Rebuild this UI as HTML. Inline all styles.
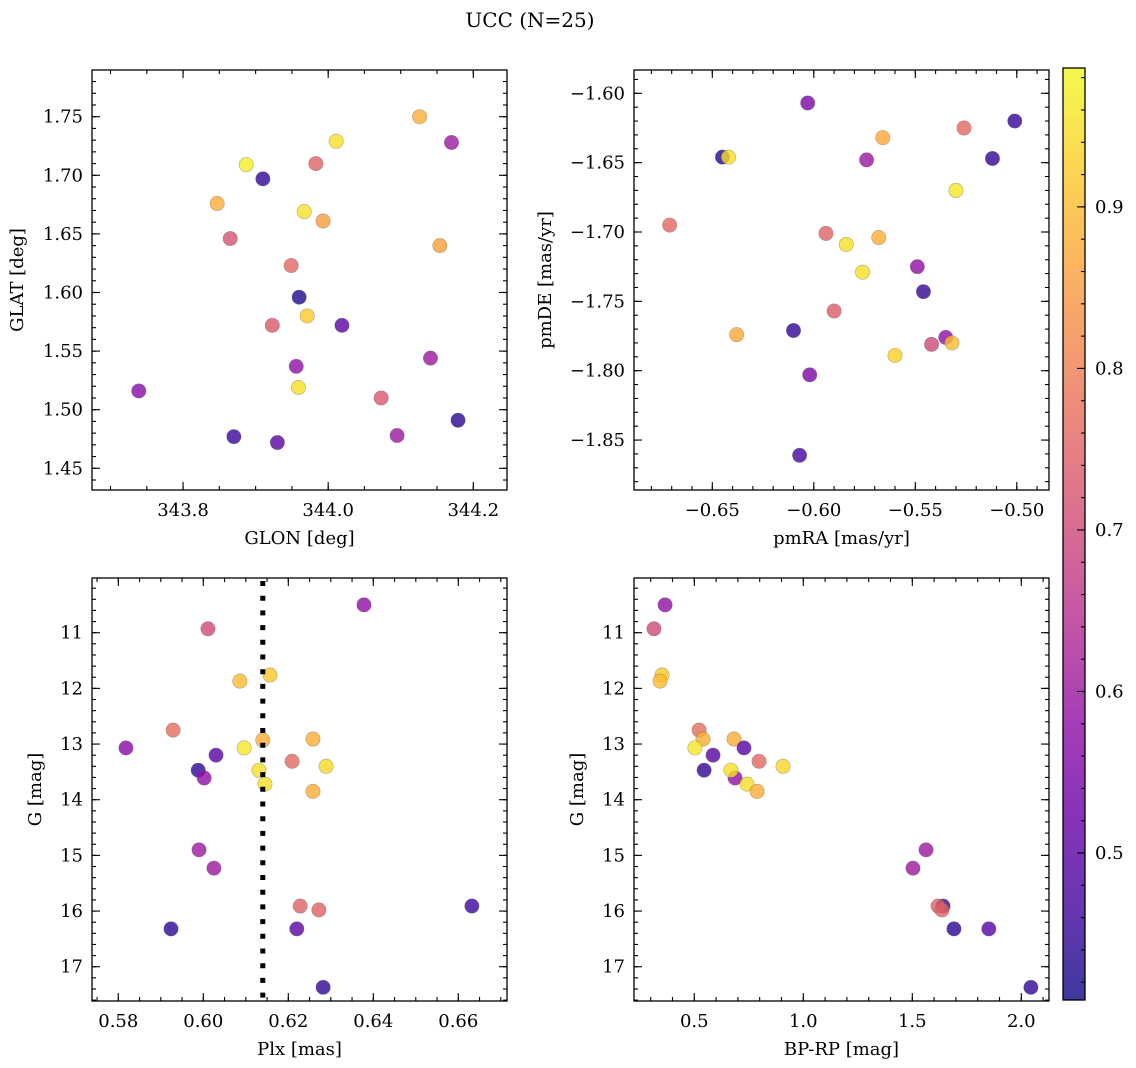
<!DOCTYPE html>
<html><head><meta charset="utf-8"><style>
html,body{margin:0;padding:0;background:#fff;}
svg{display:block;font-family:"DejaVu Serif","Liberation Serif",serif;}
</style></head><body>
<svg id="fig" width="1136" height="1068" viewBox="0 0 1136 1068" xmlns="http://www.w3.org/2000/svg">
<text x="530" y="27" font-size="20" text-anchor="middle">UCC (N=25)</text>
</svg>
<script>
// ---- data ----
const glon = [344.126,344.011,344.170,343.887,343.983,343.910,343.847,343.967,343.993,343.865,344.154,343.949,343.960,343.923,343.971,344.019,343.956,344.141,343.959,343.739,344.073,343.870,344.095,343.930,344.179];
const glat = [1.750,1.729,1.728,1.709,1.710,1.697,1.676,1.669,1.661,1.646,1.640,1.623,1.596,1.572,1.580,1.572,1.537,1.544,1.519,1.516,1.510,1.477,1.478,1.472,1.491];
const probTL = [0.88,0.95,0.60,0.97,0.75,0.45,0.88,0.95,0.85,0.72,0.86,0.76,0.43,0.73,0.92,0.50,0.58,0.60,0.95,0.57,0.73,0.46,0.60,0.50,0.44];

const pmra = [-0.603,-0.501,-0.526,-0.566,-0.645,-0.642,-0.574,-0.512,-0.530,-0.671,-0.594,-0.584,-0.568,-0.576,-0.549,-0.546,-0.590,-0.610,-0.638,-0.535,-0.542,-0.532,-0.560,-0.602,-0.607];
const pmde = [-1.607,-1.620,-1.625,-1.632,-1.646,-1.646,-1.648,-1.647,-1.670,-1.695,-1.701,-1.709,-1.704,-1.729,-1.725,-1.743,-1.757,-1.771,-1.774,-1.776,-1.781,-1.780,-1.789,-1.803,-1.861];
const probTR = [0.55,0.45,0.76,0.87,0.43,0.95,0.60,0.45,0.96,0.76,0.75,0.95,0.88,0.95,0.58,0.45,0.74,0.45,0.87,0.58,0.70,0.90,0.93,0.55,0.47];

const plx = [0.6378,0.6011,0.6157,0.6086,0.5929,0.5818,0.6096,0.6140,0.6258,0.6209,0.6289,0.6030,0.5988,0.6002,0.6131,0.6145,0.6258,0.5990,0.6025,0.6228,0.6272,0.6632,0.5924,0.6220,0.6282];
const gmag = [10.50,10.93,11.76,11.87,12.75,13.07,13.07,12.93,12.91,13.31,13.40,13.20,13.47,13.61,13.47,13.72,13.85,14.90,15.23,15.91,15.98,15.91,16.32,16.32,17.37];
const probBL = [0.58,0.70,0.92,0.90,0.77,0.57,0.96,0.88,0.88,0.76,0.94,0.50,0.45,0.58,0.95,0.95,0.88,0.60,0.60,0.75,0.75,0.46,0.44,0.50,0.45];
const plxLine = 0.614;

const bprp = [0.366,0.315,0.352,0.343,0.522,0.540,0.503,0.682,0.797,0.907,0.728,0.586,0.545,0.687,0.668,0.742,0.788,1.563,1.503,1.641,1.618,1.636,1.691,1.851,2.044];
const gmag2 = [10.50,10.93,11.76,11.87,12.75,12.91,13.07,12.91,13.31,13.40,13.07,13.20,13.47,13.61,13.47,13.72,13.85,14.90,15.23,15.91,15.91,15.98,16.32,16.32,17.37];
const probBR = [0.58,0.70,0.92,0.90,0.77,0.88,0.96,0.88,0.76,0.94,0.50,0.50,0.45,0.58,0.95,0.95,0.88,0.60,0.60,0.46,0.75,0.75,0.44,0.50,0.45];

const cbTicks = [0.5,0.6,0.7,0.8,0.9];
const vmin = 0.409, vmax = 0.986;

// ---- helpers ----
const NS = "http://www.w3.org/2000/svg";
const fig = document.getElementById('fig');
const FS = 18;
const plasma = ["#0d0887","#41049d","#6a00a8","#8f0da4","#b12a90","#cc4778","#e16462","#f2844b","#fca636","#fcce25","#f0f921"];
function hex(h){return [parseInt(h.slice(1,3),16),parseInt(h.slice(3,5),16),parseInt(h.slice(5,7),16)];}
function cmap(v){
  let t=(v-vmin)/(vmax-vmin); t=Math.max(0,Math.min(1,t));
  const s=t*10, i=Math.min(9,Math.floor(s)), f=s-i;
  const a=hex(plasma[i]), b=hex(plasma[i+1]);
  return "rgb("+a.map((c,k)=>Math.round(c+(b[k]-c)*f)).join(",")+")";
}
function mk(tag, attrs, parent){
  const e=document.createElementNS(NS,tag);
  for(const k in attrs) e.setAttribute(k,attrs[k]);
  (parent||fig).appendChild(e); return e;
}
function fmt(v,d){ const s=v.toFixed(d); return s.replace("-","\u2212"); }

function panel(cfg){
  const {x0,x1,y0,y1,xmin,xmax,ymin,ymax,invert,name}=cfg;
  const g=mk('g',{});
  
  
  const sx=v=>x0+(v-xmin)/(xmax-xmin)*(x1-x0);
  const sy=v=> invert ? y0+(v-ymin)/(ymax-ymin)*(y1-y0) : y1-(v-ymin)/(ymax-ymin)*(y1-y0);
  const tg=mk('g',{stroke:'#000','stroke-width':1.1},g);
  function ticks(step,len,isX){
    const lo=isX?xmin:ymin, hi=isX?xmax:ymax;
    for(let k=Math.ceil(lo/step-1e-9);k*step<=hi+1e-9;k++){
      const v=k*step;
      if(isX){const p=sx(v); mk('line',{x1:p,x2:p,y1:y1,y2:y1-len},tg); mk('line',{x1:p,x2:p,y1:y0,y2:y0+len},tg);}
      else {const p=sy(v); mk('line',{x1:x0,x2:x0+len,y1:p,y2:p},tg); mk('line',{x1:x1,x2:x1-len,y1:p,y2:p},tg);}
    }
  }
  ticks(cfg.xminor,4,true); ticks(cfg.xmajor,8,true);
  ticks(cfg.yminor,4,false); ticks(cfg.ymajor,8,false);
  cfg.xticks.forEach(v=>{
    const t=mk('text',{x:sx(v),y:y1+26,'font-size':FS,'text-anchor':'middle'},g);
    
    
    t.textContent=fmt(v,cfg.xdec);
  });
  cfg.yticks.forEach(v=>{
    const t=mk('text',{x:x0-9,y:sy(v)+6,'font-size':FS,'text-anchor':'end'},g);
    
    
    t.textContent=fmt(v,cfg.ydec);
  });
  const xl=mk('text',{x:(x0+x1)/2,y:y1+54,'font-size':FS,'text-anchor':'middle'},g);
  
  
  xl.textContent=cfg.xlabel;
  const yx=cfg.ylx, yy=(y0+y1)/2;
  const yl=mk('text',{x:yx,y:yy,'font-size':FS,'text-anchor':'middle',transform:`rotate(-90 ${yx} ${yy})`},g);
  
  
  yl.textContent=cfg.ylabel;
  const pg=mk('g',{},g);
  cfg.xs.forEach((xv,i)=>{
    const c=mk('circle',{cx:sx(xv),cy:sy(cfg.ys[i]),r:7.2,fill:cmap(cfg.cs[i]),'fill-opacity':0.8,stroke:'#666','stroke-opacity':0.5,'stroke-width':0.6},pg);
    
    
  });
  if(cfg.vline!==undefined){
    const l=mk('line',{x1:sx(cfg.vline),x2:sx(cfg.vline),y1:y0+3,y2:y1,stroke:'#000','stroke-width':5,'stroke-dasharray':'5 9.7'},g);
    
    
  }
  const fr=mk('rect',{x:x0,y:y0,width:x1-x0,height:y1-y0,fill:'none',stroke:'#000','stroke-width':1.3},g);
  
  
}

panel({name:'glon-glat',x0:92,x1:507,y0:70,y1:490,
  xmin:343.8-91/725,xmax:344.2+33.7/725,ymin:1.45-(490-468.3)/1172,ymax:1.75+(116.7-70)/1172,
  xmajor:0.2,xminor:0.05,ymajor:0.05,yminor:0.01,xticks:[343.8,344.0,344.2],xdec:1,
  yticks:[1.45,1.50,1.55,1.60,1.65,1.70,1.75],ydec:2,xlabel:'GLON [deg]',ylabel:'GLAT [deg]',ylx:23,
  xs:glon,ys:glat,cs:probTL});
panel({name:'pm',x0:634,x1:1049,y0:70,y1:490,
  xmin:-0.65-(712.3-634)/2030,xmax:-0.65+(1049-712.3)/2030,ymin:-1.60-(490-93.3)/1387,ymax:-1.60+(93.3-70)/1387,
  xmajor:0.05,xminor:0.01,ymajor:0.05,yminor:0.01,xticks:[-0.65,-0.60,-0.55,-0.50],xdec:2,
  yticks:[-1.85,-1.80,-1.75,-1.70,-1.65,-1.60],ydec:2,xlabel:'pmRA [mas/yr]',ylabel:'pmDE [mas/yr]',ylx:551,
  xs:pmra,ys:pmde,cs:probTR});
panel({name:'plx-g',x0:92,x1:507,y0:578,y1:1001,invert:true,
  xmin:0.58-(118.3-92)/4250,xmax:0.58+(507-118.3)/4250,ymin:11-(632.7-578)/55.67,ymax:11+(1001-632.7)/55.67,
  xmajor:0.02,xminor:0.005,ymajor:1,yminor:0.2,xticks:[0.58,0.60,0.62,0.64,0.66],xdec:2,
  yticks:[11,12,13,14,15,16,17],ydec:0,xlabel:'Plx [mas]',ylabel:'G [mag]',ylx:41,
  xs:plx,ys:gmag,cs:probBL,vline:plxLine});
panel({name:'cmd',x0:634,x1:1049,y0:578,y1:1001,invert:true,
  xmin:0.5-(694.3-634)/218,xmax:0.5+(1049-694.3)/218,ymin:11-(632.7-578)/55.67,ymax:11+(1001-632.7)/55.67,
  xmajor:0.5,xminor:0.1,ymajor:1,yminor:0.2,xticks:[0.5,1.0,1.5,2.0],xdec:1,
  yticks:[11,12,13,14,15,16,17],ydec:0,xlabel:'BP-RP [mag]',ylabel:'G [mag]',ylx:583,
  xs:bprp,ys:gmag2,cs:probBR});

(function(){
  const cx0=1063,cx1=1085,cy0=68,cy1=1000;
  const defs=mk('defs',{});
  const lg=mk('linearGradient',{id:'cbg',x1:0,y1:1,x2:0,y2:0},defs);
  for(let i=0;i<=40;i++){const v=vmin+(vmax-vmin)*i/40; mk('stop',{offset:(i/40),'stop-color':cmap(v),'stop-opacity':0.8},lg);}
  const g=mk('g',{});
  
  
  mk('rect',{x:cx0,y:cy0,width:cx1-cx0,height:cy1-cy0,fill:'url(#cbg)'},g);
  const sy=v=>cy1-(v-vmin)/(vmax-vmin)*(cy1-cy0);
  for(let k=21;k*0.02<=vmax;k++){const p=sy(k*0.02); mk('line',{x1:cx1,x2:cx1-4,y1:p,y2:p,stroke:'#000','stroke-width':1.1},g);}
  cbTicks.forEach(v=>{
    const p=sy(v);
    mk('line',{x1:cx1,x2:cx1-8,y1:p,y2:p,stroke:'#000','stroke-width':1.1},g);
    const t=mk('text',{x:cx1+10,y:p+6,'font-size':FS},g);
    
    
    t.textContent=v.toFixed(1);
  });
  mk('rect',{x:cx0,y:cy0,width:cx1-cx0,height:cy1-cy0,fill:'none',stroke:'#000','stroke-width':1.3},g);
})();
</script>
</body></html>
